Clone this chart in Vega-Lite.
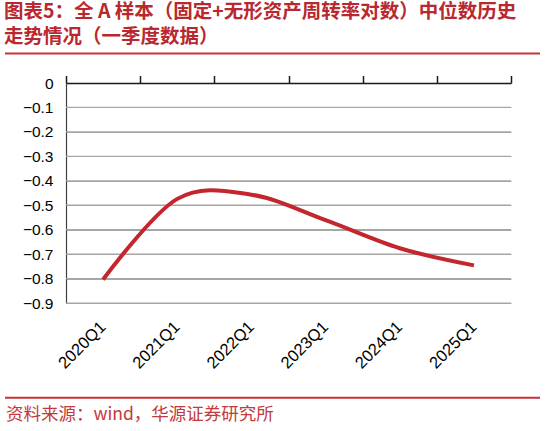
{
  "$schema": "https://vega.github.io/schema/vega-lite/v6.json",
  "autosize": {"type": "none"},
  "width": 445,
  "height": 220,
  "padding": {"left": 66, "top": 83, "right": 35, "bottom": 128},
  "background": "white",
  "config": {"view": {"stroke": null}, "font": "Liberation Sans"},
  "title": {
    "text": ["图表5：全 A 样本（固定+无形资产周转率对数）中位数历史", "走势情况（一季度数据）"],
    "anchor": "start",
    "frame": "bounds",
    "font": "Noto Sans CJK SC",
    "fontSize": 19.5,
    "fontWeight": "bold",
    "color": "#B8282E",
    "lineHeight": 25.5,
    "offset": 5
  },
  "data": {
    "values": [
      {"quarter": "2020Q1", "value": -0.804},
      {"quarter": "2021Q1", "value": -0.474},
      {"quarter": "2022Q1", "value": -0.457},
      {"quarter": "2023Q1", "value": -0.561},
      {"quarter": "2024Q1", "value": -0.676},
      {"quarter": "2025Q1", "value": -0.746}
    ]
  },
  "encoding": {
    "x": {
      "field": "quarter",
      "type": "ordinal",
      "scale": {
        "type": "band",
        "domain": ["2020Q1", "2021Q1", "2022Q1", "2023Q1", "2024Q1", "2025Q1"],
        "paddingInner": 0,
        "paddingOuter": 0
      },
      "axis": {
        "orient": "bottom",
        "title": null,
        "domain": false,
        "ticks": false,
        "grid": false,
        "labelAngle": -45,
        "labelAlign": "right",
        "labelBaseline": "middle",
        "labelPadding": 21,
        "labelFont": "Liberation Sans",
        "labelFontSize": 16.5,
        "labelColor": "#000000"
      }
    },
    "y": {
      "field": "value",
      "type": "quantitative",
      "scale": {"domain": [-0.9, 0], "nice": false, "zero": false},
      "axis": {
        "title": null,
        "values": [0, -0.1, -0.2, -0.3, -0.4, -0.5, -0.6, -0.7, -0.8, -0.9],
        "format": ".1~f",
        "labelOverlap": false,
        "grid": true,
        "gridColor": "#a6a6a6",
        "gridWidth": 1.2,
        "domainColor": "#404040",
        "domainWidth": 1.2,
        "ticks": false,
        "labelPadding": 13,
        "labelFont": "Liberation Sans",
        "labelFontSize": 15.5,
        "labelColor": "#000000"
      }
    }
  },
  "layer": [
    {
      "data": {
        "values": [
          {"value": -0.1}, {"value": -0.2}, {"value": -0.3}, {"value": -0.4},
          {"value": -0.5}, {"value": -0.6}, {"value": -0.7}, {"value": -0.8}, {"value": -0.9}
        ]
      },
      "mark": {"type": "rule", "color": "#a6a6a6", "strokeWidth": 1.2},
      "encoding": {
        "x": {"value": 0},
        "x2": {"value": 445}
      }
    },
    {
      "mark": {"type": "line", "interpolate": "cardinal", "color": "#C4262E", "strokeWidth": 4}
    },
    {
      "mark": {"type": "point", "opacity": 0},
      "encoding": {
        "x": {
          "field": "quarter",
          "type": "ordinal",
          "axis": {
            "orient": "top",
            "title": null,
            "labels": false,
            "grid": false,
            "tickBand": "extent",
            "tickSize": 7.5,
            "tickWidth": 1.5,
            "tickColor": "#1a1a1a",
            "domainColor": "#1a1a1a",
            "domainWidth": 1.5
          }
        }
      }
    },
    {
      "data": {"values": [{}]},
      "mark": {"type": "rule", "color": "#C8323A", "strokeWidth": 2},
      "encoding": {
        "x": {"value": -61},
        "x2": {"value": 474},
        "y": {"value": -29.4}
      }
    },
    {
      "data": {"values": [{}]},
      "mark": {"type": "rule", "color": "#C8323A", "strokeWidth": 2},
      "encoding": {
        "x": {"value": -61},
        "x2": {"value": 474},
        "y": {"value": 314.7}
      }
    },
    {
      "data": {"values": [{}]},
      "mark": {
        "type": "text",
        "align": "left",
        "baseline": "middle",
        "font": "Noto Sans CJK SC",
        "fontSize": 17.5,
        "color": "#C23A3A"
      },
      "encoding": {
        "x": {"value": -60},
        "y": {"value": 332},
        "text": {"value": "资料来源：wind，华源证券研究所"}
      }
    }
  ]
}
